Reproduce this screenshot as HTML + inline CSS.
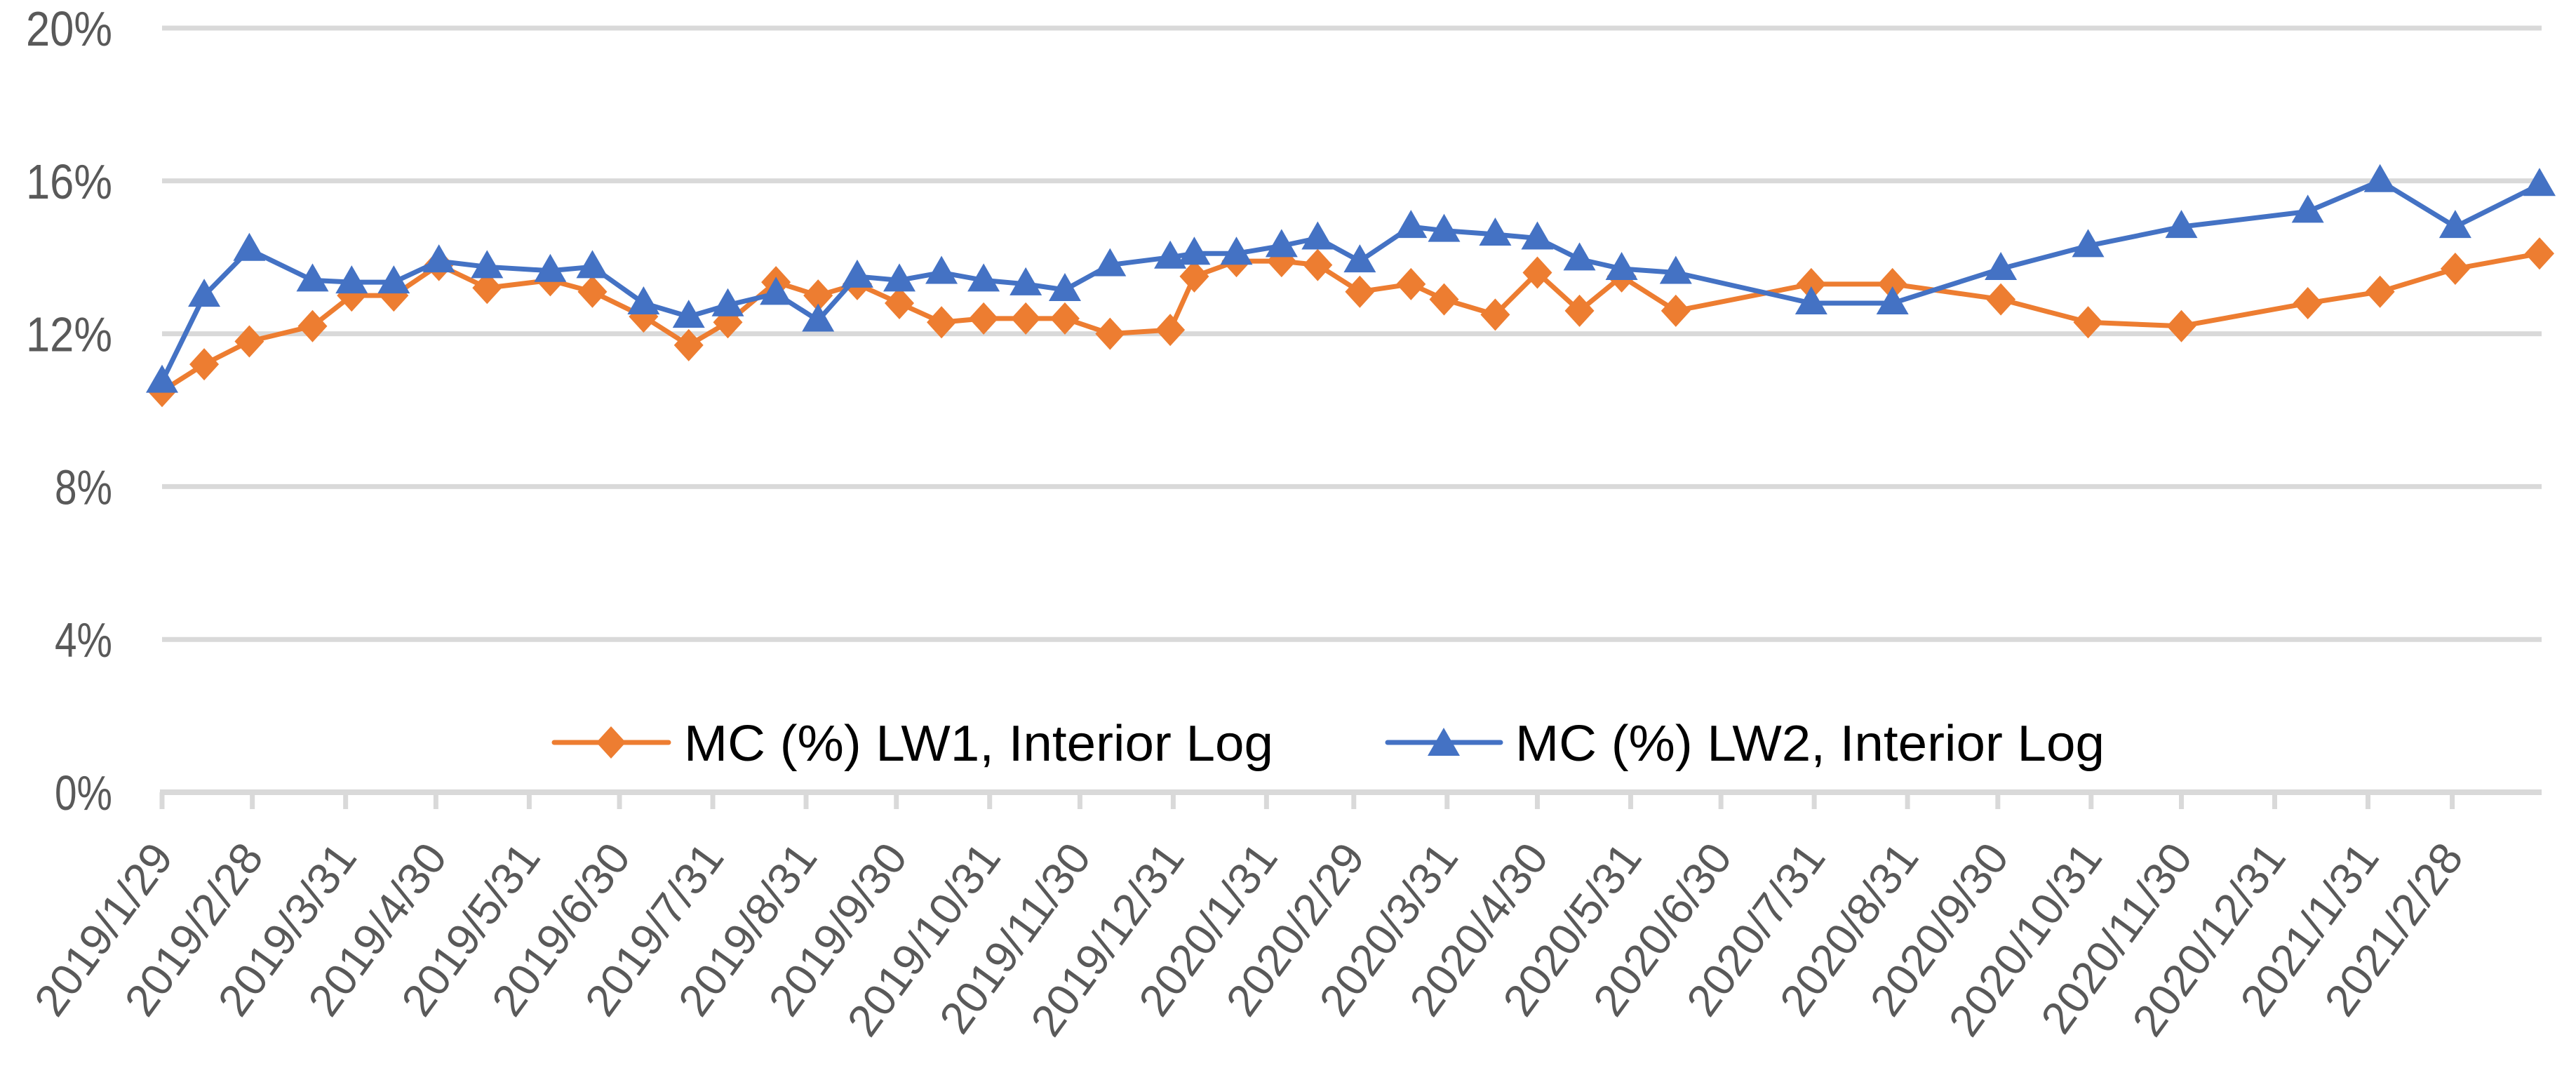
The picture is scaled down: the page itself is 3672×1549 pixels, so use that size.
<!DOCTYPE html>
<html>
<head>
<meta charset="utf-8">
<style>
html,body{margin:0;padding:0;background:#fff;}
svg{display:block;}
text{font-family:"Liberation Sans",sans-serif;}
</style>
</head>
<body>
<svg id="chart" width="3672" height="1549" viewBox="0 0 3672 1549" xmlns="http://www.w3.org/2000/svg">
  <g id="grid"></g>
  <g id="yaxis"></g>
  <g id="xaxis"></g>
  <g id="series"></g>
  <g id="legend">
    <g>
      <line x1="790" y1="1058" x2="953" y2="1058" stroke="#ED7D31" stroke-width="7" stroke-linecap="round"/>
      <polygon points="871,1035 892,1058 871,1081 850,1058" fill="#ED7D31"/>
      <text x="975" y="1084" font-size="72" fill="#000" textLength="840" lengthAdjust="spacingAndGlyphs">MC (%) LW1, Interior Log</text>
    </g>
    <g>
      <line x1="1978" y1="1058" x2="2139" y2="1058" stroke="#4472C4" stroke-width="7" stroke-linecap="round"/>
      <polygon points="2058,1037 2081,1077 2035,1077" fill="#4472C4"/>
      <text x="2160" y="1084" font-size="72" fill="#000" textLength="840" lengthAdjust="spacingAndGlyphs">MC (%) LW2, Interior Log</text>
    </g>
  </g>
</svg>
<script>
// ---- data ----
const dayOffsets = [0,14,29,50,63,77,92,108,129,143,160,175,188,204,218,231,245,259,273,287,300,315,335,343,357,372,384,398,415,426,443,457,471,485,503,548,575,611,640,671,713,737,762,790];
const lw1Values = [10.5,11.2,11.8,12.2,13.0,13.0,13.8,13.2,13.4,13.1,12.45,11.7,12.3,13.35,13.0,13.3,12.8,12.3,12.4,12.4,12.4,12.0,12.1,13.5,13.9,13.9,13.8,13.1,13.3,12.9,12.5,13.6,12.6,13.5,12.6,13.3,13.3,12.9,12.3,12.2,12.8,13.1,13.7,14.1];
const lw2Values = [10.75,13.0,14.2,13.4,13.35,13.35,13.9,13.75,13.65,13.75,12.8,12.45,12.75,13.05,12.35,13.5,13.4,13.6,13.4,13.3,13.15,13.8,14.0,14.1,14.1,14.3,14.5,13.9,14.8,14.7,14.6,14.5,13.95,13.7,13.6,12.8,12.8,13.7,14.3,14.8,15.2,16.0,14.8,15.9];
const tickLabels = ["2019/1/29","2019/2/28","2019/3/31","2019/4/30","2019/5/31","2019/6/30","2019/7/31","2019/8/31","2019/9/30","2019/10/31","2019/11/30","2019/12/31","2020/1/31","2020/2/29","2020/3/31","2020/4/30","2020/5/31","2020/6/30","2020/7/31","2020/8/31","2020/9/30","2020/10/31","2020/11/30","2020/12/31","2021/1/31","2021/2/28"];
const yTickValues = [0,4,8,12,16,20];
const yTickLabels = ["0%","4%","8%","12%","16%","20%"];

// ---- scales ----
const X0 = 231, X1 = 3623, DAYMAX = 790.7;
const Y0 = 1129, Y1 = 40, VMAX = 20;
function xScale(d){ return X0 + d * (X1 - X0) / DAYMAX; }
function yScale(v){ return Y0 - v * (Y0 - Y1) / VMAX; }
const start = Date.UTC(2019,0,29);
function dateToDay(s){ const p = s.split('/').map(Number); return (Date.UTC(p[0],p[1]-1,p[2]) - start)/86400000; }

const NS = "http://www.w3.org/2000/svg";
function mk(tag, attrs, parent){ const e = document.createElementNS(NS, tag); for (const k in attrs) e.setAttribute(k, attrs[k]); parent.appendChild(e); return e; }

const grid = document.getElementById('grid');
const yaxis = document.getElementById('yaxis');
const xaxis = document.getElementById('xaxis');
const series = document.getElementById('series');

yTickValues.forEach((v,i)=>{
  const y = yScale(v);
  if (v !== 0) {
    const g = mk('line',{x1:X0,x2:X1,y1:y,y2:y,stroke:'#D9D9D9','stroke-width':7},grid);
    
    
  }
  const t = mk('text',{x:160,y:y+25,'text-anchor':'end','font-size':70,fill:'#595959',textLength:(yTickLabels[i].length*41),lengthAdjust:'spacingAndGlyphs'},yaxis);
  t.textContent = yTickLabels[i];
  
  
});

const axisLine = mk('line',{x1:X0-3,x2:X1,y1:Y0,y2:Y0,stroke:'#D9D9D9','stroke-width':8},xaxis);



tickLabels.forEach(lbl=>{
  const x = xScale(dateToDay(lbl));
  const tk = mk('line',{x1:x,x2:x,y1:Y0,y2:Y0+24,stroke:'#D9D9D9','stroke-width':7},xaxis);
  
  
  const bx = x + 18, by = 1222;
  const t = mk('text',{x:bx,y:by,'text-anchor':'end','font-size':64,fill:'#595959',transform:`rotate(-54 ${bx} ${by})`},xaxis);
  t.textContent = lbl;
  
  
});

function drawSeries(vals, color, kind, name){
  const g = mk('g',{},series);
  
  
  const pts = vals.map((v,i)=>[xScale(dayOffsets[i]), yScale(v)]);
  const pl = mk('polyline',{points:pts.map(p=>p.join(',')).join(' '),fill:'none',stroke:color,'stroke-width':7,'stroke-linejoin':'round'},g);
  
  
  pts.forEach(([x,y])=>{
    let m;
    if (kind === 'diamond') {
      m = mk('polygon',{points:`${x},${y-23} ${x+21},${y} ${x},${y+23} ${x-21},${y}`,fill:color},g);
    } else {
      m = mk('polygon',{points:`${x},${y-24} ${x+23},${y+16} ${x-23},${y+16}`,fill:color},g);
    }
    
    
  });
}
drawSeries(lw1Values,'#ED7D31','diamond','series-lw1');
drawSeries(lw2Values,'#4472C4','triangle','series-lw2');
</script>
</body>
</html>
